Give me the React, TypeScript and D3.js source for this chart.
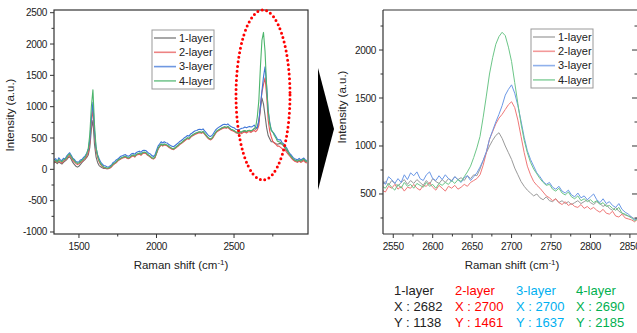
import React from 'react';
import * as d3 from 'd3';

// ---------- data ----------
const layers = ['1-layer', '2-layer', '3-layer', '4-layer'];
const colorsFull = ['#6e6e6e', '#e85a5a', '#3f76d8', '#4cb56c'];
const colorsZoom = ['#9a9a9a', '#f07878', '#6b98e6', '#6cc688'];

// full spectrum sampling (cm-1)
const fullShift = d3.range(1340, 2971, 10);
const full1 = [
  100,115,90,120,100,85,110,130,150,185,
  200,160,110,80,50,35,50,80,110,135,
  160,190,230,350,640,780,400,200,110,60,
  40,25,15,15,10,15,25,45,75,95,
  115,140,160,175,185,195,205,185,175,195,
  215,225,205,235,245,255,235,260,270,265,
  240,220,200,180,170,190,255,325,365,400,
  380,400,390,380,360,345,330,320,340,360,
  380,405,420,440,460,480,500,490,520,540,
  555,570,580,590,595,585,600,570,540,510,
  490,480,500,540,580,610,625,640,655,665,
  675,665,680,655,635,625,615,595,585,575,
  595,590,605,610,600,615,615,605,625,650,
  640,675,760,965,1138,1040,860,665,540,490,
  440,440,425,410,400,410,410,400,380,330,
  300,260,235,195,165,145,135,125,145,125,
  140,155,125,115,
];
const full2 = [
  110,130,105,140,120,100,130,150,165,205,
  220,190,145,120,95,75,90,110,125,150,
  175,215,270,420,740,960,560,300,190,120,
  75,45,25,20,10,10,20,40,70,90,
  105,130,150,165,180,185,195,175,170,185,
  205,215,195,225,235,240,225,250,260,255,
  230,215,195,175,165,185,250,320,360,390,
  370,390,385,370,350,335,320,315,335,350,
  370,395,410,430,450,470,490,480,510,530,
  545,560,570,580,585,575,590,560,530,500,
  480,470,490,530,570,600,615,630,645,655,
  665,655,670,645,625,615,605,585,575,565,
  580,570,590,595,580,600,600,590,610,620,
  600,630,700,1000,1230,1355,1461,1185,790,610,
  520,445,420,400,370,370,350,330,300,305,
  270,240,210,180,150,130,120,110,130,110,
  125,140,110,100,
];
const full3 = [
  150,170,125,185,150,140,175,165,210,240,
  265,225,180,160,125,115,120,150,160,190,
  215,255,320,470,820,1070,620,345,235,170,
  115,85,60,55,40,35,55,70,110,120,
  150,165,185,210,215,230,235,215,210,225,
  250,255,240,270,280,290,270,300,305,300,
  280,255,245,220,205,230,300,370,405,440,
  420,440,425,420,395,380,370,360,380,400,
  420,445,460,480,505,520,540,530,565,580,
  600,615,620,635,640,630,645,615,585,555,
  530,525,545,585,625,650,670,685,700,715,
  720,710,725,700,685,670,665,640,635,625,
  645,655,660,675,665,675,685,675,685,705,
  670,660,780,1005,1250,1475,1637,1340,950,755,
  630,595,565,525,480,470,470,425,410,370,
  340,290,250,225,190,170,160,150,175,150,
  165,180,150,140,
];
const full4 = [
  125,145,115,160,135,120,150,160,185,225,
  245,205,165,140,110,95,105,125,145,165,
  195,250,330,560,1000,1270,720,360,220,140,
  90,60,35,30,20,20,35,55,85,100,
  120,145,160,180,190,200,210,190,180,200,
  220,230,210,240,250,260,240,265,275,270,
  245,225,210,185,175,200,265,335,370,405,
  385,405,395,385,365,350,335,325,345,365,
  385,410,425,445,470,485,505,495,525,545,
  560,575,585,595,600,590,605,575,545,515,
  495,485,505,545,585,615,630,645,660,670,
  680,670,685,660,640,630,620,600,590,580,
  600,600,615,620,605,620,625,615,630,650,
  680,835,1100,1630,2060,2185,1880,1330,930,735,
  620,595,540,500,450,440,430,410,370,350,
  320,280,225,200,170,150,140,130,150,130,
  150,165,135,125,
];

// zoomed 2D band sampling (cm-1)
const zoomShift = d3.range(2536, 2865, 4);
const zoom1 = [
  600,630,590,640,610,580,620,650,600,640,
  610,650,620,590,640,600,660,630,610,650,
  620,660,640,680,650,670,640,690,660,700,
  690,760,850,930,1000,1060,1110,1138,1080,1000,
  930,860,770,700,630,580,540,510,480,500,
  460,440,470,430,420,450,410,430,400,420,
  390,410,430,400,420,440,410,390,420,400,
  370,390,350,330,360,320,300,280,270,260,
  240,250,220,
];
const zoom2 = [
  540,520,580,560,600,550,580,530,570,560,
  600,560,540,590,580,620,570,540,590,560,
  530,580,560,590,550,570,600,580,620,640,
  660,700,800,930,1070,1150,1230,1290,1330,1380,
  1430,1461,1400,1270,1100,930,790,700,630,590,
  560,520,480,460,430,450,410,390,420,380,
  400,370,360,390,350,370,340,360,330,310,
  340,300,290,320,270,260,290,250,240,230,
  210,240,220,
];
const zoom3 = [
  640,600,680,650,610,660,620,700,650,720,
  690,730,660,640,700,730,660,640,690,650,
  700,660,630,680,650,620,670,690,640,680,
  720,780,850,940,1070,1160,1250,1330,1420,1530,
  1590,1637,1550,1420,1260,1090,950,860,790,720,
  680,630,600,620,570,550,580,530,510,540,
  490,470,510,460,480,440,470,500,440,410,
  450,400,420,380,360,400,340,310,290,260,
  230,250,220,
];
const zoom4 = [
  580,560,610,570,540,600,560,620,580,600,
  560,610,590,570,620,580,600,560,610,590,
  620,600,640,610,650,630,680,730,790,880,
  980,1100,1300,1520,1750,1920,2060,2140,2185,2150,
  2030,1880,1660,1440,1230,1060,930,830,760,710,
  660,620,590,600,550,530,560,510,490,520,
  470,450,480,430,450,420,440,410,430,390,
  410,370,380,350,330,360,300,290,270,250,
  220,240,210,
];

const leftYTicks = [-1000, -500, 0, 500, 1000, 1500, 2000, 2500];
const leftXTicks = [1500, 2000, 2500];
const rightYTicks = [500, 1000, 1500, 2000];
const rightXTicks = [2550, 2600, 2650, 2700, 2750, 2800, 2850];

const peakX = [2682, 2700, 2700, 2690];
const peakY = [1138, 1461, 1637, 2185];
const peakColors = ['#222222', '#ff0000', '#00b0f0', '#00b050'];

const fullSeries = [full1, full2, full3, full4];
const zoomSeries = [zoom1, zoom2, zoom3, zoom4];

// ---------- layout ----------
const W = 637, H = 333;
const L = { x0: 54, x1: 308, y0: 10, y1: 234 };
const R = { x0: 383, x1: 637, y0: 10, y1: 234 };
const FONT = 'Liberation Sans, Arial, Helvetica, sans-serif';
const AX = '#333';

export default function App() {
  const xL = d3.scaleLinear().domain([1339, 2977]).range([L.x0, L.x1]);
  const yL = d3.scaleLinear().domain([-1032, 2543]).range([L.y1, L.y0]);
  const xR = d3.scaleLinear().domain([2537, 2859]).range([R.x0, R.x1]);
  const yR = d3.scaleLinear().domain([83, 2417]).range([R.y1, R.y0]);

  const lineL = (vals: number[]) =>
    d3.line<number>().x((_, i) => xL(fullShift[i])).y((d) => yL(d))(vals) || '';
  const lineR = (vals: number[]) =>
    d3.line<number>().x((_, i) => xR(zoomShift[i])).y((d) => yR(d))(vals) || '';

  const leftYMinor = d3.range(-1000, 2501, 250).filter((v) => v % 500 !== 0);
  const leftXMinor = [1750, 2250, 2750];
  const rightYMinor = d3.range(250, 2401, 500);
  const rightXMinor = d3.range(2575, 2860, 50);

  const tickText = { fontFamily: FONT, fontSize: 10, fill: '#222', letterSpacing: -0.3 } as any;
  const titleText = { fontFamily: FONT, fontSize: 11.5, fill: '#222' } as any;

  const legend = (x: number, y: number, cols: string[]) => (
    <g>
      <rect x={x} y={y} width={62} height={59} fill="#fff" stroke="#999" strokeWidth={1} />
      {layers.map((name, i) => (
        <g key={name}>
          <line x1={x + 2} x2={x + 24} y1={y + 8 + i * 14.3} y2={y + 8 + i * 14.3} stroke={cols[i]} strokeWidth={1.6} opacity={0.75} />
          <text x={x + 27} y={y + 8 + i * 14.3} dy="0.35em" style={{ fontFamily: FONT, fontSize: 11, fill: '#222' }}>{name}</text>
        </g>
      ))}
    </g>
  );

  return (
    <svg width={W} height={H} style={{ position: 'fixed', left: 0, top: 0, background: '#fff' }}>
      <defs>
        <clipPath id="clipL"><rect x={L.x0} y={L.y0} width={L.x1 - L.x0} height={L.y1 - L.y0} /></clipPath>
        <clipPath id="clipR"><rect x={R.x0} y={R.y0} width={R.x1 - R.x0} height={R.y1 - R.y0} /></clipPath>
      </defs>
      <rect x={0} y={0} width={W} height={H} fill="#fff" />

      {/* ---------- left panel ---------- */}
      <g clipPath="url(#clipL)">
        {fullSeries.map((s, i) => (
          <path key={i} d={lineL(s)} fill="none" stroke={colorsFull[i]} strokeWidth={1.1} strokeLinejoin="round" />
        ))}
      </g>
      <rect x={L.x0} y={L.y0} width={L.x1 - L.x0} height={L.y1 - L.y0} fill="none" stroke={AX} strokeWidth={1.2} />
      {leftYTicks.map((v) => (
        <g key={v}>
          <line x1={L.x0 - 4} x2={L.x0} y1={yL(v)} y2={yL(v)} stroke={AX} />
          <text x={L.x0 - 7} y={yL(v)} dy="0.35em" textAnchor="end" style={tickText}>{v}</text>
        </g>
      ))}
      {leftYMinor.map((v) => (
        <line key={v} x1={L.x0 - 2.5} x2={L.x0} y1={yL(v)} y2={yL(v)} stroke={AX} />
      ))}
      {leftXTicks.map((v) => (
        <g key={v}>
          <line x1={xL(v)} x2={xL(v)} y1={L.y1} y2={L.y1 + 4} stroke={AX} />
          <text x={xL(v)} y={L.y1 + 16} textAnchor="middle" style={tickText}>{v}</text>
        </g>
      ))}
      {leftXMinor.map((v) => (
        <line key={v} x1={xL(v)} x2={xL(v)} y1={L.y1} y2={L.y1 + 2.5} stroke={AX} />
      ))}
      <text x={(L.x0 + L.x1) / 2} y={269} textAnchor="middle" style={titleText}>
        Raman shift (cm<tspan dy={-4} fontSize={8}>-1</tspan><tspan dy={4}>)</tspan>
      </text>
      <text transform={`translate(14,115) rotate(-90)`} textAnchor="middle" style={titleText}>Intensity (a.u.)</text>
      {legend(152, 30, colorsFull)}
      <ellipse cx={263} cy={95} rx={27} ry={85} fill="none" stroke="#ff0000" strokeWidth={3} strokeDasharray="0 4.6" strokeLinecap="round" />

      {/* arrow */}
      <polygon points="318,68 334,129 318,190" fill="#000" />

      {/* ---------- right panel ---------- */}
      <g clipPath="url(#clipR)">
        {zoomSeries.map((s, i) => (
          <path key={i} d={lineR(s)} fill="none" stroke={colorsZoom[i]} strokeWidth={1} strokeLinejoin="round" />
        ))}
      </g>
      <line x1={R.x0} x2={W} y1={R.y0} y2={R.y0} stroke={AX} strokeWidth={1.2} />
      <line x1={R.x0} x2={W} y1={R.y1} y2={R.y1} stroke={AX} strokeWidth={1.2} />
      <line x1={R.x0} x2={R.x0} y1={R.y0} y2={R.y1} stroke={AX} strokeWidth={1.2} />
      {rightYTicks.map((v) => (
        <g key={v}>
          <line x1={R.x0 - 4} x2={R.x0} y1={yR(v)} y2={yR(v)} stroke={AX} />
          <line x1={W - 5} x2={W} y1={yR(v)} y2={yR(v)} stroke={AX} />
          <text x={R.x0 - 7} y={yR(v)} dy="0.35em" textAnchor="end" style={tickText}>{v}</text>
        </g>
      ))}
      {rightYMinor.map((v) => (
        <g key={v}>
          <line x1={R.x0 - 2.5} x2={R.x0} y1={yR(v)} y2={yR(v)} stroke={AX} />
          <line x1={W - 2.5} x2={W} y1={yR(v)} y2={yR(v)} stroke={AX} />
        </g>
      ))}
      {rightXTicks.map((v) => (
        <g key={v}>
          <line x1={xR(v)} x2={xR(v)} y1={R.y1} y2={R.y1 + 4} stroke={AX} />
          <text x={xR(v)} y={R.y1 + 16} textAnchor="middle" style={tickText}>{v}</text>
        </g>
      ))}
      {rightXMinor.map((v) => (
        <line key={v} x1={xR(v)} x2={xR(v)} y1={R.y1} y2={R.y1 + 2.5} stroke={AX} />
      ))}
      <text x={512} y={269} textAnchor="middle" style={titleText}>
        Raman shift (cm<tspan dy={-4} fontSize={8}>-1</tspan><tspan dy={4}>)</tspan>
      </text>
      <text transform={`translate(346,107) rotate(-90)`} textAnchor="middle" style={titleText}>Intensity (a.u.)</text>
      {legend(531, 29, colorsZoom)}

      {/* ---------- peak annotations ---------- */}
      {layers.map((name, i) => {
        const x = [394, 455, 516, 576][i];
        const st = { fontFamily: FONT, fontSize: 13, fill: peakColors[i] } as any;
        return (
          <g key={name}>
            <text x={x} y={295} style={st}>{name}</text>
            <text x={x} y={311} style={st}>{`X : ${peakX[i]}`}</text>
            <text x={x} y={327} style={st}>{`Y : ${peakY[i]}`}</text>
          </g>
        );
      })}
    </svg>
  );
}
